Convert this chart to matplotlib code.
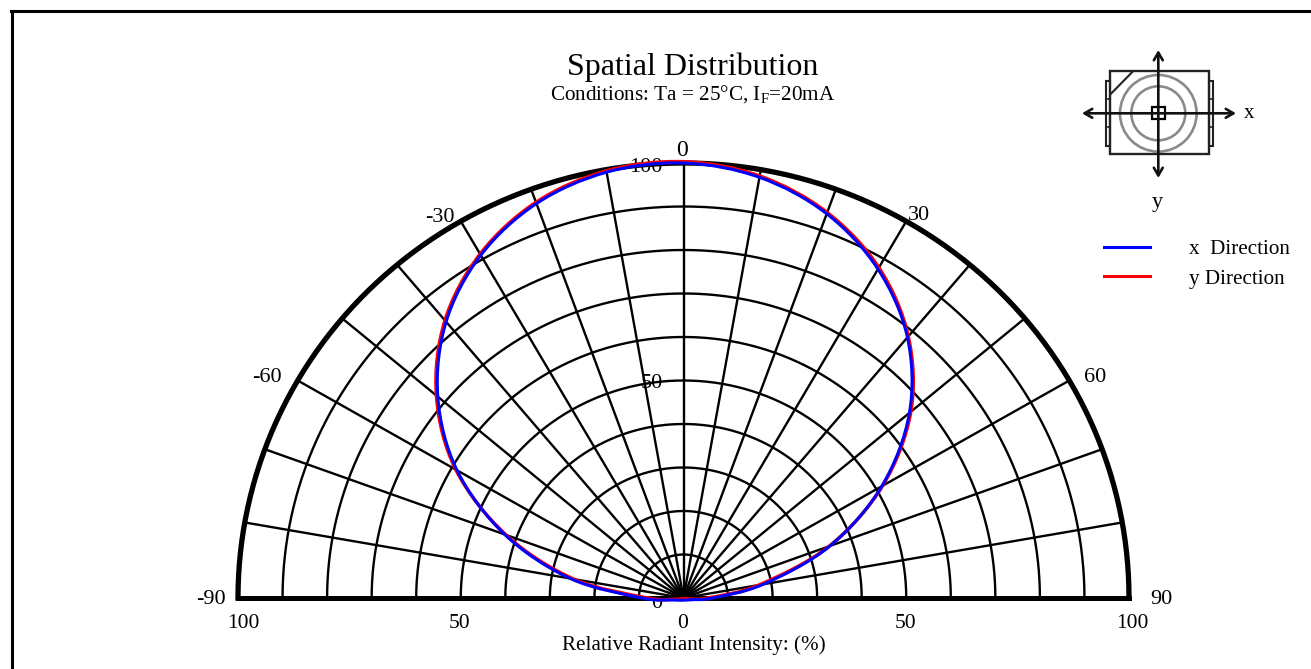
import numpy as np
import matplotlib
matplotlib.use("Agg")
import matplotlib.pyplot as plt
from matplotlib.patches import Rectangle, Circle, PathPatch
from matplotlib.path import Path
from matplotlib.transforms import Bbox, TransformedBbox

plt.rcParams['font.family'] = ['Liberation Serif', 'DejaVu Serif']
plt.rcParams['mathtext.fontset'] = 'custom'
plt.rcParams['mathtext.rm'] = 'Liberation Serif'

# data (angle in degrees, intensity in %)
angles = [-180, -100, -90, -80, -70, -60, -50, -40, -30, -20, -10,
          0, 10, 20, 30, 40, 50, 60, 70, 80, 90, 100, 180]
x_dir = [0.5, 2.6, 9.3, 25.8, 42.7, 58.7, 72.0, 82.9, 91.0, 96.5, 99.4,
         100, 98.2, 94.0, 87.3, 78.2, 66.2, 51.4, 35.0, 18.2, 6.5, 2.2, 0.5]
y_dir = [0.1, 1.6, 8.0, 25.0, 42.4, 59.0, 72.4, 83.3, 91.3, 96.8, 99.7,
         100.3, 98.5, 94.3, 87.7, 78.5, 66.6, 51.6, 34.8, 17.2, 5.5, 1.2, 0.1]

grid_angles = list(range(-90, 91, 10))
grid_radii = list(range(10, 100, 10))
angle_labels = [-90, -60, -30, 0, 30, 60, 90]
radial_labels = [100, 50, 0]
bottom_ticks = [-100, -50, 0, 50, 100]


def to_xy(theta, r):
    t = np.radians(theta)
    r = np.asarray(r, dtype=float)
    return r * np.sin(t), r * np.cos(t)


def smooth_path(x, y):
    # bezier curve through the read points, so the line is not a polygon
    p = np.column_stack([x, y])
    p = np.vstack([p[0], p, p[-1]])
    verts = [p[1]]
    codes = [Path.MOVETO]
    for i in range(1, len(p) - 2):
        verts += [p[i] + (p[i + 1] - p[i - 1]) / 6, p[i + 1] - (p[i + 2] - p[i]) / 6, p[i + 1]]
        codes += [Path.CURVE4] * 3
    return Path(verts, codes)


W, H = 1311, 669
fig = plt.figure(figsize=(W / 100, H / 100), dpi=100)

# main chart: -100..100 is x 238..1129 px, 0..100 is y 598..163 px
ax = fig.add_axes([238 / W, (H - 598) / H, (1129 - 238) / W, (598 - 163) / H])
ax.set_xlim(-100, 100)
ax.set_ylim(0, 100)
ax.axis('off')

th = np.linspace(-90, 90, 361)
for r in grid_radii:
    x, y = to_xy(th, r)
    ax.plot(x, y, color='black', lw=1.7, clip_on=False, zorder=2)
for a in grid_angles:
    x, y = to_xy(a, np.array([0, 100]))
    ax.plot(x, y, color='black', lw=1.7, clip_on=False, zorder=2)
x, y = to_xy(th, 100)
ax.plot(x, y, color='black', lw=3.8, clip_on=False, zorder=3)
ax.plot([-100, 100], [0, 0], color='black', lw=3.6, clip_on=False, zorder=3)

# the curves
x, y = to_xy(np.array(angles), y_dir)
ax.add_patch(PathPatch(smooth_path(x, y), fill=False, ec='#ff0000', lw=2.5, clip_on=False, zorder=4))
x, y = to_xy(np.array(angles), x_dir)
ax.add_patch(PathPatch(smooth_path(x, y), fill=False, ec='#0000ff', lw=2.2, clip_on=False, zorder=5))
l1, = ax.plot([], [], color='#0000ff', lw=2.2, label='x  Direction')
l2, = ax.plot([], [], color='#ff0000', lw=2.2, label='y Direction')

# overlay in pixels for the texts and the small package sketch
ov = fig.add_axes([0, 0, 1, 1], zorder=-1)
ov.set_xlim(0, W)
ov.set_ylim(H, 0)
ov.axis('off')
ax.patch.set_alpha(0)

ov.plot([12, 12], [11, H], color='black', lw=2.2)
ov.plot([11, W], [11, 11], color='black', lw=2.2)

top = fig.add_axes([0, 0, 1, 1], zorder=10)
top.set_xlim(0, W)
top.set_ylim(H, 0)
top.axis('off')
top.patch.set_alpha(0)

top.text(693, 67, 'Spatial Distribution', fontsize=23, ha='center', va='center')
top.text(693, 95, r'Conditions: Ta = 25°C, I$_{\mathrm{F}}$=20mA', fontsize=15.2, ha='center', va='center')
top.text(694, 645, 'Relative Radiant Intensity: (%)', fontsize=15.2, ha='center', va='center')

label_pos = {-90: (211, 599), -60: (267, 378), -30: (440, 217), 0: (682, 151), 30: (919, 216), 60: (1095, 378), 90: (1161, 599)}
for a in angle_labels:
    top.text(label_pos[a][0], label_pos[a][1], str(a), fontsize=17 if a == 0 else 16, ha='center', va='center')

radial_pos = {100: (646, 167), 50: (652, 384), 0: (657, 603)}
for r in radial_labels:
    t = ov.text(radial_pos[r][0], radial_pos[r][1], str(r), fontsize=16, ha='center', va='center')
    if r == 0:
        # only the part under the base line shows
        t.set_clip_box(TransformedBbox(Bbox([[0, 600], [W, H]]), ov.transData))
        t.set_clip_on(True)

for v, px in zip(bottom_ticks, [243, 459, 683, 906, 1132]):
    top.text(px, 623, str(abs(v)), fontsize=15.5, ha='center', va='center')

# package sketch
top.add_patch(Circle((1158.3, 113.3), 38.3, fill=False, ec='#8a8a8a', lw=1.9))
top.add_patch(Circle((1158.3, 113.3), 27, fill=False, ec='#8a8a8a', lw=1.9))
top.add_patch(Rectangle((1110, 71), 98.7, 83, fill=False, ec='#222222', lw=1.7))
for px in [1105.7, 1208.7]:
    top.add_patch(Rectangle((px, 81), 4.3, 65, fill=False, ec='#222222', lw=1.5))
    top.plot([px, px + 4.3], [99, 99], color='#222222', lw=1.2)
    top.plot([px, px + 4.3], [127, 127], color='#222222', lw=1.2)
top.plot([1110.7, 1133], [94, 71.3], color='#222222', lw=1.5)
top.add_patch(Rectangle((1152.3, 107.3), 12.4, 12, fill=False, ec='black', lw=1.6))
arrow = dict(arrowstyle='<->,head_length=0.55,head_width=0.32', color='#111111', lw=1.9, shrinkA=0, shrinkB=0)
top.annotate('', xy=(1082, 113.3), xytext=(1236, 113.3), arrowprops=arrow)
top.annotate('', xy=(1158.3, 178), xytext=(1158.3, 50), arrowprops=arrow)
top.text(1249, 114, 'x', fontsize=15, ha='center', va='center')
top.text(1157, 202, 'y', fontsize=16, ha='center', va='center')

# legend
ax.legend(handles=[l1, l2], loc='upper left', bbox_to_anchor=(0.972, 0.825), frameon=False, fontsize=15.2,
          handlelength=2.18, handletextpad=1.85, labelspacing=0.48, borderaxespad=0, borderpad=0)

fig.savefig('out.png', dpi=100, facecolor='white')
